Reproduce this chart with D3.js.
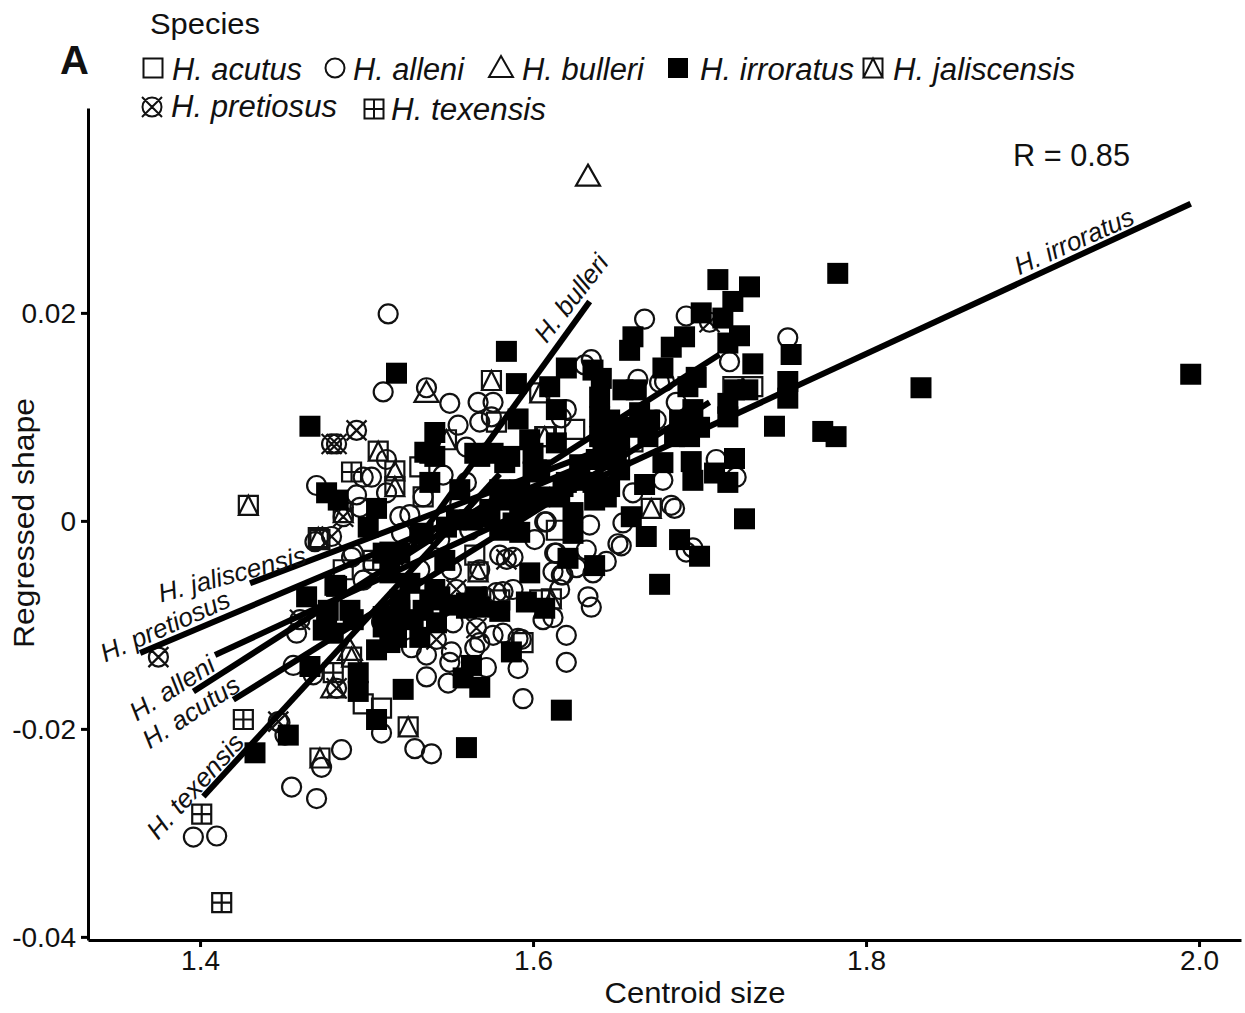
<!DOCTYPE html>
<html><head><meta charset="utf-8">
<script src="https://cdn.jsdelivr.net/npm/d3@7/dist/d3.min.js"></script>
<style>html,body{margin:0;background:#fff}text{font-family:"Liberation Sans",Arial,sans-serif;fill:#111}</style>
</head><body><svg id="c" width="1245" height="1013"></svg>
<script>
const species=["H. acutus","H. alleni","H. bulleri","H. irroratus","H. jaliscensis","H. pretiosus","H. texensis"];
const xTicks=[1.4,1.6,1.8,2.0];
const yTicks=[-0.04,-0.02,0,0.02];
const acutus=[[1.498,-.0176],[1.509,-.0180],[1.594,-.0117],[1.532,.0052],[1.534,.0023],[1.578,.0095],[1.608,.0081],[1.625,.0088],[1.614,-.0009],[1.660,.0076],[1.652,.0062],[1.720,.0129],[1.732,.0129],[1.486,-.0047],[1.472,-.0018],[1.580,-.0076],[1.604,-.0076],[1.565,-.0033]];
const alleni=[[1.513,.0199],[1.510,.0124],[1.536,.0128],[1.550,.0113],[1.567,.0114],[1.576,.0114],[1.555,.0092],[1.568,.0095],[1.575,.0100],[1.560,.0071],[1.512,.0059],[1.470,.0034],[1.498,.0042],[1.503,.0042],[1.494,.0025],[1.512,.0027],[1.520,.0004],[1.526,.0006],[1.496,.0013],[1.521,-.0012],[1.469,-.0020],[1.492,-.0031],[1.534,.0023],[1.546,.0044],[1.607,-.0001],[1.601,-.0018],[1.620,.0107],[1.617,.0099],[1.560,.0037],[1.556,.0017],[1.620,-.0110],[1.620,-.0136],[1.594,-.0171],[1.591,-.0142],[1.572,-.0141],[1.550,-.0136],[1.549,-.0156],[1.536,-.0150],[1.536,-.0129],[1.527,-.0122],[1.551,-.0126],[1.565,-.0122],[1.568,-.0117],[1.576,-.0110],[1.582,-.0108],[1.591,-.0113],[1.509,-.0204],[1.485,-.0220],[1.529,-.0219],[1.539,-.0224],[1.473,-.0237],[1.456,-.0139],[1.468,-.0148],[1.633,-.0073],[1.635,-.0083],[1.606,-.0095],[1.612,-.0093],[1.612,-.0049],[1.617,-.0052],[1.636,-.0050],[1.614,-.0031],[1.578,-.0069],[1.582,-.0068],[1.588,-.0066],[1.571,-.0073],[1.588,-.0035],[1.580,-.0033],[1.551,-.0047],[1.498,-.0057],[1.491,-.0035],[1.504,-.0042],[1.458,-.0108],[1.509,-.0097],[1.552,-.0098],[1.667,.0194],[1.692,.0197],[1.753,.0176],[1.635,.0155],[1.631,.0150],[1.718,.0153],[1.663,.0136],[1.686,.0114],[1.690,.0095],[1.678,.0039],[1.710,.0059],[1.722,.0042],[1.676,.0133],[1.679,.0134],[1.674,.0097],[1.660,.0027],[1.683,.0015],[1.685,.0012],[1.654,-.0002],[1.651,-.0022],[1.653,-.0024],[1.692,-.0030],[1.696,-.0026],[1.644,-.0039],[1.632,-.0028],[1.613,-.0031],[1.634,-.0004],[1.608,-.0001],[1.616,-.0066],[1.618,-.0052],[1.626,-.0045],[1.593,-.0114],[1.396,-.0304],[1.410,-.0303],[1.455,-.0256],[1.470,-.0267],[1.448,-.0194],[1.451,-.0206],[1.562,-.0009],[1.544,-.0018],[1.532,-.0047],[1.568,-.0047],[1.634,.0049]];
const bulleri=[[1.633,.0331],[1.536,.0123],[1.480,-.0161],[1.490,-.0125]];
const irroratus=[[1.995,.0141],[1.833,.0128],[1.783,.0238],[1.782,.0081],[1.774,.0086],[1.711,.0232],[1.730,.0225],[1.720,.0211],[1.714,.0195],[1.701,.0200],[1.724,.0178],[1.717,.0171],[1.732,.0151],[1.755,.0160],[1.660,.0177],[1.658,.0164],[1.691,.0177],[1.683,.0167],[1.678,.0147],[1.698,.0138],[1.693,.0129],[1.745,.0091],[1.753,.0134],[1.753,.0118],[1.729,.0126],[1.721,.0126],[1.717,.0100],[1.717,.0113],[1.696,.0107],[1.700,.0090],[1.694,.0081],[1.685,.0081],[1.678,.0056],[1.695,.0057],[1.709,.0046],[1.696,.0039],[1.717,.0037],[1.721,.0060],[1.620,.0147],[1.610,.0129],[1.614,.0107],[1.590,.0132],[1.591,.0098],[1.614,.0075],[1.636,.0145],[1.641,.0137],[1.640,.0119],[1.640,.0100],[1.640,.0081],[1.654,.0126],[1.662,.0126],[1.664,.0104],[1.658,.0090],[1.669,.0081],[1.642,.0065],[1.650,.0059],[1.584,.0163],[1.518,.0142],[1.466,.0091],[1.541,.0085],[1.535,.0066],[1.541,.0062],[1.565,.0065],[1.576,.0065],[1.598,.0078],[1.600,.0065],[1.538,.0037],[1.476,.0027],[1.483,.0020],[1.506,.0012],[1.501,-.0006],[1.532,-.0012],[1.592,-.0011],[1.600,.0047],[1.620,.0037],[1.624,.0008],[1.624,-.0012],[1.583,.0056],[1.604,.0049],[1.583,.0020],[1.628,.0054],[1.646,.0033],[1.637,.0020],[1.667,.0035],[1.659,.0004],[1.668,-.0015],[1.688,-.0018],[1.700,-.0034],[1.727,.0002],[1.676,-.0061],[1.621,-.0036],[1.637,-.0043],[1.598,-.0050],[1.482,-.0063],[1.464,-.0073],[1.580,-.0087],[1.607,-.0084],[1.596,-.0078],[1.541,-.0066],[1.566,-.0073],[1.560,-.0084],[1.550,-.0081],[1.477,-.0086],[1.490,-.0086],[1.506,-.0124],[1.522,-.0162],[1.466,-.0140],[1.495,-.0146],[1.495,-.0164],[1.506,-.0191],[1.453,-.0206],[1.433,-.0223],[1.560,-.0218],[1.617,-.0182],[1.587,-.0126],[1.563,-.0139],[1.558,-.0151],[1.568,-.0160],[1.474,-.0105],[1.518,-.0112],[1.532,-.0112],[1.542,-.0098],[1.528,-.0095],[1.518,-.0092],[1.510,-.0092],[1.492,-.0095],[1.480,-.0108],[1.514,-.0030],[1.520,-.0076],[1.538,-.0076],[1.580,-.0009],[1.574,.0011],[1.562,.0001],
[1.538,.0065],[1.568,.0062],[1.586,.0062],[1.602,.0049],[1.618,.0033],[1.638,.0059],[1.644,.0023],[1.628,.0039],[1.636,.0037],[1.564,.0001],[1.554,.0001],[1.574,.0004],[1.588,-.0002],[1.592,.0013],[1.548,-.0006],[1.534,-.0012],[1.520,-.0031],[1.510,-.0031],[1.514,-.0050],[1.560,-.0079],[1.568,-.0083],[1.544,-.0073],[1.520,-.0086],[1.534,-.0086],[1.616,.0023],[1.604,.0023],[1.481,-.0062],[1.476,-.0095],[1.510,-.0102],[1.526,-.0060],[1.514,-.0117],[1.580,.0030],[1.556,.0030],[1.592,.0030],[1.547,-.0038],[1.652,.0049],[1.670,.0097],[1.646,.0097],[1.652,.0078],[1.688,.0097]];
const jaliscensis=[[1.429,.0015],[1.575,.0135],[1.507,.0067],[1.517,.0048],[1.517,.0033],[1.472,-.0228],[1.525,-.0198],[1.491,-.0131],[1.611,-.0075],[1.567,-.0049],[1.671,.0012],[1.471,-.0016],[1.548,.0078],[1.604,.0123],[1.607,.0081],[1.486,.0008]];
const pretiosus=[[1.494,.0087],[1.479,.0074],[1.482,.0074],[1.375,-.0131],[1.447,-.0193],[1.706,.0191],[1.482,-.0161],[1.486,.0004],[1.554,-.0066],[1.542,-.0114],[1.566,-.0103],[1.479,-.0015],[1.584,-.0037],[1.460,-.0095]];
const texensis=[[1.491,.0047],[1.426,-.0191],[1.401,-.0282],[1.413,-.0367],[1.504,-.0038],[1.480,-.0146]];
const lineAcutus=[[1.420,-.0172],[1.706,.0114]];
const lineAlleni=[[1.396,-.0164],[1.712,.0160]];
const lineBulleri=[[1.520,-.0042],[1.634,.0211]];
const lineIrroratus=[[1.409,-.0129],[1.995,.0305]];
const lineJaliscensis=[[1.430,-.0060],[1.652,.0075]];
const linePretiosus=[[1.364,-.0127],[1.652,.0068]];
const lineTexensis=[[1.402,-.0265],[1.580,.0045]];

const svg=d3.select("#c");
const x=d3.scaleLinear().domain([1.3327,2.0252]).range([88,1241]);
const y=d3.scaleLinear().domain([-0.0403,0.0397]).range([940,108]);

function square(p,s){p.rect(-s/2,-s/2,s,s);}
function shape(kind,p){
  if(kind==="sq") square(p,19);
  if(kind==="ci"){p.moveTo(9.5,0);p.arc(0,0,9.5,0,2*Math.PI);}
  if(kind==="tr"){p.moveTo(0,-12);p.lineTo(12,9);p.lineTo(-12,9);p.closePath();}
  if(kind==="ja"){square(p,19);p.moveTo(0,-9.5);p.lineTo(9.5,9.5);p.lineTo(-9.5,9.5);p.closePath();}
  if(kind==="pr"){p.moveTo(9.5,0);p.arc(0,0,9.5,0,2*Math.PI);p.moveTo(-10,-10);p.lineTo(10,10);p.moveTo(10,-10);p.lineTo(-10,10);}
  if(kind==="te"){square(p,19);p.moveTo(-9.5,0);p.lineTo(9.5,0);p.moveTo(0,-9.5);p.lineTo(0,9.5);}
  return p.toString();
}
function draw(g,pts,kind){
  g.selectAll(null).data(pts).join("path")
   .attr("transform",d=>`translate(${x(d[0])},${y(d[1])})`)
   .attr("d",kind==="bk"?(()=>{const p=d3.path();square(p,21);return p.toString();})():shape(kind,d3.path()))
   .attr("fill",kind==="bk"?"#000":"none")
   .attr("stroke",kind==="bk"?"none":"#111")
   .attr("stroke-width",2.2);
}
const pg=svg.append("g");
draw(pg,alleni,"ci");
draw(pg,acutus,"sq");
draw(pg,bulleri,"tr");
draw(pg,jaliscensis,"ja");
draw(pg,pretiosus,"pr");
draw(pg,texensis,"te");
draw(pg,irroratus,"bk");

const ln=d3.line().x(d=>x(d[0])).y(d=>y(d[1]));
[lineAcutus,lineAlleni,lineBulleri,lineIrroratus,lineJaliscensis,linePretiosus,lineTexensis].forEach(l=>{
  svg.append("path").attr("d",ln(l)).attr("stroke","#000").attr("stroke-width",6).attr("fill","none");
});

const ax=svg.append("g").attr("transform","translate(0,940)").call(d3.axisBottom(x).tickValues(xTicks).tickFormat(d3.format(".1f")).tickSize(7).tickSizeOuter(0));
const ay=svg.append("g").attr("transform","translate(88,0)").call(d3.axisLeft(y).tickValues(yTicks).tickFormat(d=>d===0?"0":String(d)).tickSize(7).tickSizeOuter(0));
[ax,ay].forEach(a=>{a.select(".domain").attr("stroke","#000").attr("stroke-width",3);
  a.selectAll(".tick line").attr("stroke","#000").attr("stroke-width",3);
  a.selectAll(".tick text").attr("font-size",28).attr("fill","#111").attr("font-family",'"Liberation Sans"');});
ax.selectAll(".tick text").attr("dy",0).attr("y",30);
ay.selectAll(".tick text").attr("dy",".36em").attr("x",-12);

function t(str,px,py,size,len,opts={}){
  const e=svg.append("text").attr("x",px).attr("y",py).attr("font-size",size).text(str);
  if(len) e.attr("textLength",len).attr("lengthAdjust","spacingAndGlyphs");
  if(opts.i) e.attr("font-style","italic");
  if(opts.b) e.attr("font-weight","bold");
  if(opts.a) e.attr("text-anchor",opts.a);
  if(opts.r!==undefined) e.attr("transform",`rotate(${opts.r},${px},${py})`);
  return e;
}
t("Species",150,34,30,110);
t("A",60,74,40,null,{b:true});
t("R = 0.85",1013,166,32,117);
t("Centroid size",695,1003,30,181,{a:"middle"});
t("Regressed shape",34,523,30,250,{a:"middle",r:-90});

const legendKinds=["sq","ci","tr","bk","ja","pr","te"];
const legendSym=[[153,68],[335,68],[501,68],[678,68],[873,68],[152,107],[374,109]];
const legendTxt=[[172,80,130],[353,80,111],[522,80,122],[700,80,154],[893,80,182],[171,117,166],[391,120,155]];
species.forEach((s,i)=>{
  const [sx,sy]=legendSym[i],k=legendKinds[i];
  const p=d3.path();
  if(k==="bk")square(p,20);else shape(k,p);
  svg.append("path").attr("transform",`translate(${sx},${sy})`).attr("d",p.toString())
    .attr("fill",k==="bk"?"#000":"none").attr("stroke",k==="bk"?"none":"#111").attr("stroke-width",2);
  t(s,legendTxt[i][0],legendTxt[i][1],31,legendTxt[i][2],{i:true});
});

function lab(str,cx,cy,r,len){
  const e=svg.append("text").attr("text-anchor","middle").attr("dy",".35em").attr("font-size",26).attr("font-style","italic")
    .attr("transform",`translate(${cx},${cy}) rotate(${r})`).text(str);
  if(len) e.attr("textLength",len).attr("lengthAdjust","spacingAndGlyphs");
}
lab("H. irroratus",1074,241,-24,128);
lab("H. bulleri",571,298,-52,103);
lab("H. jaliscensis",232,574,-15,152);
lab("H. pretiosus",165,626,-24,139);
lab("H. alleni",172,688,-33,96);
lab("H. acutus",191,712,-33,110);
lab("H. texensis",195,786,-48,131);
</script></body></html>
